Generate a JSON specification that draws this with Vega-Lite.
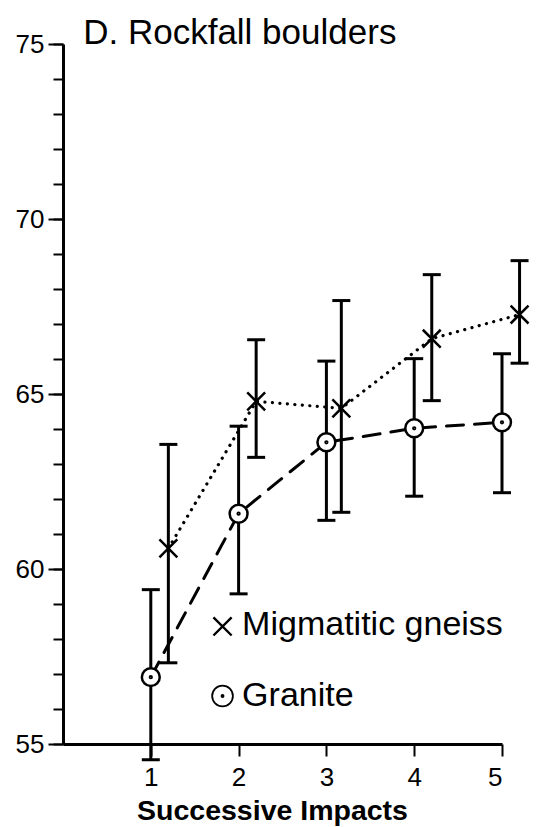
{
  "$schema": "https://vega.github.io/schema/vega-lite/v6.json",
  "width": 439,
  "height": 700,
  "autosize": {"type": "none"},
  "padding": {"left": 63, "top": 44, "right": 37, "bottom": 83},
  "background": "white",
  "config": {
    "view": {"stroke": null},
    "font": "Liberation Sans",
    "axis": {"grid": false, "domainColor": "black", "tickColor": "black", "labelColor": "black", "titleColor": "black", "labelFont": "Liberation Sans", "titleFont": "Liberation Sans"}
  },
  "resolve": {"axis": {"y": "independent"}},
  "data": {
    "values": [
      {"series": "Migmatitic gneiss", "impact": 1.2, "mean": 60.59, "lo": 57.32, "hi": 63.56},
      {"series": "Migmatitic gneiss", "impact": 2.2, "mean": 64.79, "lo": 63.19, "hi": 66.55},
      {"series": "Migmatitic gneiss", "impact": 3.17, "mean": 64.59, "lo": 61.62, "hi": 67.67},
      {"series": "Migmatitic gneiss", "impact": 4.2, "mean": 66.58, "lo": 64.81, "hi": 68.41},
      {"series": "Migmatitic gneiss", "impact": 5.2, "mean": 67.27, "lo": 65.88, "hi": 68.81},
      {"series": "Granite", "impact": 1, "mean": 56.91, "lo": 54.55, "hi": 59.41},
      {"series": "Granite", "impact": 2, "mean": 61.58, "lo": 59.29, "hi": 64.08},
      {"series": "Granite", "impact": 3, "mean": 63.62, "lo": 61.39, "hi": 65.94},
      {"series": "Granite", "impact": 4, "mean": 64.02, "lo": 62.08, "hi": 66.01},
      {"series": "Granite", "impact": 5, "mean": 64.19, "lo": 62.18, "hi": 66.15}
    ]
  },
  "layer": [
    {
      "transform": [{"filter": "datum.series === 'Migmatitic gneiss'"}],
      "mark": {"type": "line", "color": "black", "strokeWidth": 3.2, "strokeCap": "round", "strokeDash": [0.1, 7.4], "clip": false},
      "encoding": {
        "x": {"field": "impact", "type": "quantitative", "scale": {"domain": [0, 5], "nice": false, "zero": false},
          "axis": {"values": [1, 2, 3, 4, 5], "format": "d", "tickSize": 12, "tickWidth": 2, "domainWidth": 3, "labelFontSize": 26, "labelPadding": 8, "title": "Successive Impacts", "titleFontSize": 28.5, "titleFontWeight": "bold", "titlePadding": 6, "titleX": 209, "titleAnchor": "middle", "titleAlign": "center"}},
        "y": {"field": "mean", "type": "quantitative", "scale": {"domain": [55, 75], "nice": false, "zero": false},
          "axis": {"orient": "left", "values": [55, 60, 65, 70, 75], "format": "d", "labelOverlap": false, "tickSize": 15, "tickWidth": 2, "domainWidth": 3, "labelFontSize": 26, "labelPadding": 4, "title": null}}
      }
    },
    {
      "transform": [{"filter": "datum.series === 'Granite'"}],
      "mark": {"type": "line", "color": "black", "strokeWidth": 3, "strokeCap": "round", "strokeDash": [17, 11], "clip": false},
      "encoding": {
        "x": {"field": "impact", "type": "quantitative"},
        "y": {"field": "mean", "type": "quantitative",
          "axis": {"orient": "left", "values": [55,56,57,58,59,60,61,62,63,64,65,66,67,68,69,70,71,72,73,74,75], "labels": false, "domain": false, "tickSize": 10, "tickWidth": 2, "title": null}}
      }
    },
    {
      "mark": {"type": "rule", "color": "black", "strokeWidth": 3, "clip": false},
      "encoding": {
        "x": {"field": "impact", "type": "quantitative"},
        "y": {"field": "lo", "type": "quantitative", "axis": null},
        "y2": {"field": "hi"}
      }
    },
    {
      "mark": {"type": "tick", "orient": "horizontal", "color": "black", "size": 18, "thickness": 3, "opacity": 1, "clip": false},
      "encoding": {
        "x": {"field": "impact", "type": "quantitative"},
        "y": {"field": "lo", "type": "quantitative", "axis": null}
      }
    },
    {
      "mark": {"type": "tick", "orient": "horizontal", "color": "black", "size": 18, "thickness": 3, "opacity": 1, "clip": false},
      "encoding": {
        "x": {"field": "impact", "type": "quantitative"},
        "y": {"field": "hi", "type": "quantitative", "axis": null}
      }
    },
    {
      "mark": {"type": "point", "filled": false, "fill": "white", "color": "black", "stroke": "black", "strokeWidth": 2.5, "size": 320, "opacity": 1, "fillOpacity": 1, "clip": false},
      "encoding": {
        "x": {"field": "impact", "type": "quantitative"},
        "y": {"field": "mean", "type": "quantitative", "axis": null},
        "shape": {"field": "series", "type": "nominal",
          "scale": {"domain": ["Migmatitic gneiss", "Granite"], "range": ["M-1,-1L1,1M-1,1L1,-1", "M-1,0A1,1,0,1,1,1,0A1,1,0,1,1,-1,0Z M-0.1,0A0.1,0.1,0,1,1,0.1,0A0.1,0.1,0,1,1,-0.1,0Z"]},
          "legend": null
        }
      }
    },
    {
      "data": {"values": [{"series": "Migmatitic gneiss"}]},
      "mark": {"type": "point", "filled": false, "fill": "white", "color": "black", "stroke": "black", "strokeWidth": 2.4, "size": 330, "opacity": 1, "fillOpacity": 1, "clip": false},
      "encoding": {
        "x": {"datum": 1.817, "type": "quantitative"},
        "y": {"datum": 58.36, "type": "quantitative", "axis": null},
        "shape": {"field": "series", "type": "nominal", "legend": null}
      }
    },
    {
      "data": {"values": [{"series": "Granite"}]},
      "mark": {"type": "point", "filled": false, "fill": "white", "color": "black", "stroke": "black", "strokeWidth": 1.8, "size": 430, "opacity": 1, "fillOpacity": 1, "clip": false},
      "encoding": {
        "x": {"datum": 1.817, "type": "quantitative"},
        "y": {"datum": 56.37, "type": "quantitative", "axis": null},
        "shape": {"field": "series", "type": "nominal", "legend": null}
      }
    },
    {
      "data": {"values": [{"label": "Migmatitic gneiss"}]},
      "mark": {"type": "text", "align": "left", "baseline": "alphabetic", "fontSize": 34, "font": "Liberation Sans", "color": "black", "clip": false},
      "encoding": {
        "x": {"datum": 2.04, "type": "quantitative"},
        "y": {"datum": 58.11, "type": "quantitative", "axis": null},
        "text": {"field": "label"}
      }
    },
    {
      "data": {"values": [{"label": "Granite"}]},
      "mark": {"type": "text", "align": "left", "baseline": "alphabetic", "fontSize": 34, "font": "Liberation Sans", "color": "black", "clip": false},
      "encoding": {
        "x": {"datum": 2.04, "type": "quantitative"},
        "y": {"datum": 56.09, "type": "quantitative", "axis": null},
        "text": {"field": "label"}
      }
    },
    {
      "data": {"values": [{"label": "D. Rockfall boulders"}]},
      "mark": {"type": "text", "align": "left", "baseline": "alphabetic", "fontSize": 35, "font": "Liberation Sans", "color": "black", "clip": false},
      "encoding": {
        "x": {"datum": 0.23, "type": "quantitative"},
        "y": {"datum": 75, "type": "quantitative", "axis": null},
        "text": {"field": "label"}
      }
    }
  ]
}
